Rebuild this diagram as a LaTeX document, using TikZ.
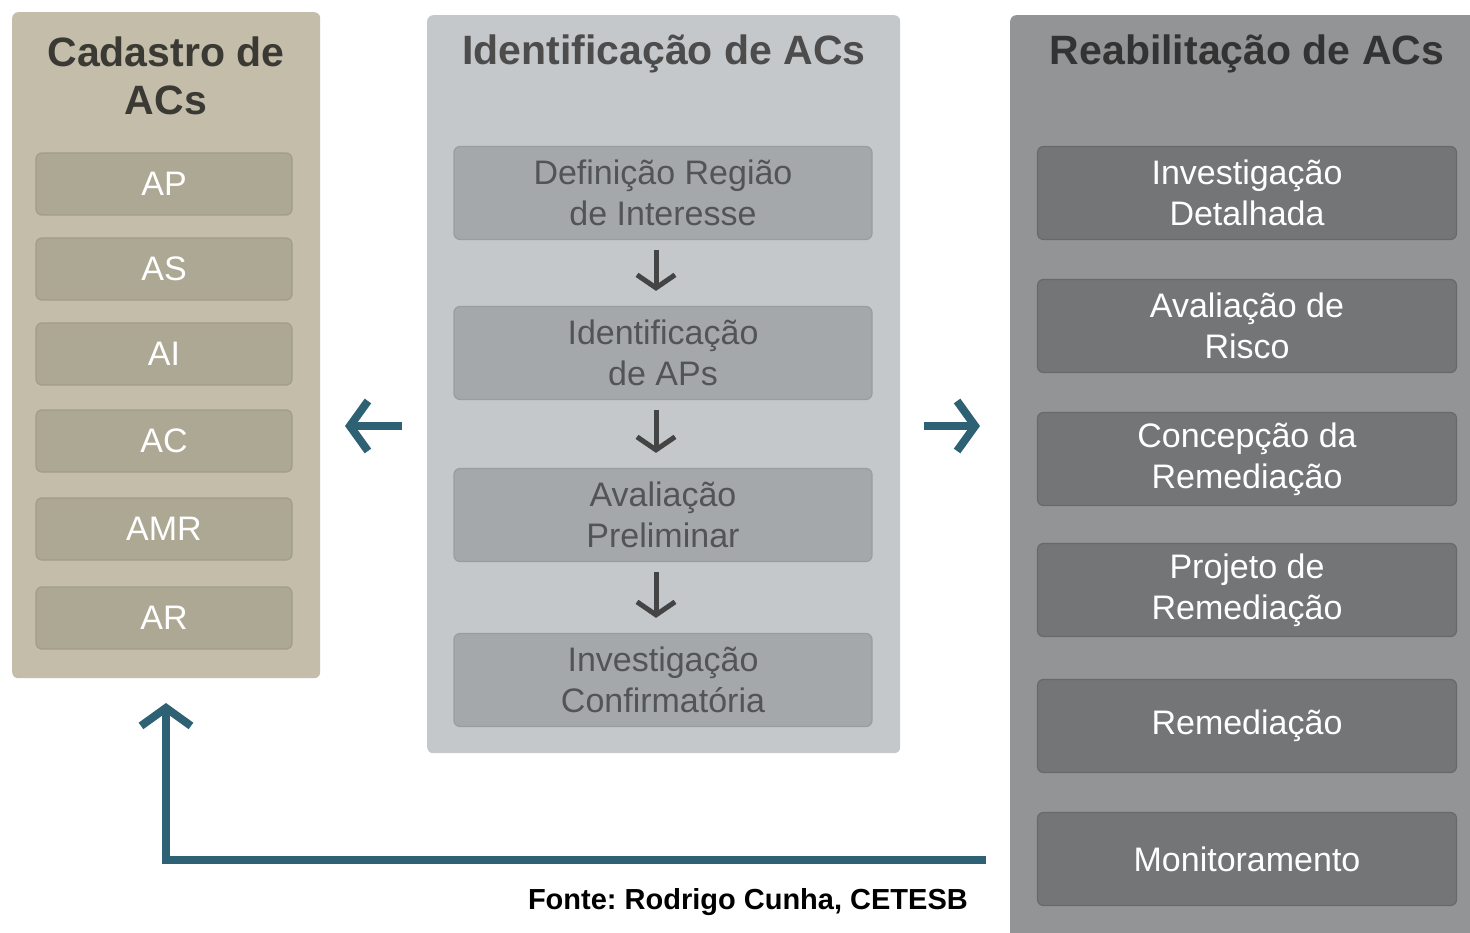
\documentclass[tikz,border=0pt]{standalone}
\usepackage{fontspec}
\setmainfont{Liberation Sans}
\usetikzlibrary{arrows.meta}
\frenchspacing
\definecolor{tanpanel}{HTML}{C3BDA9}
\definecolor{tanbox}{HTML}{ADA894}
\definecolor{tanedge}{HTML}{A29D89}
\definecolor{midpanel}{HTML}{C5C8CA}
\definecolor{midbox}{HTML}{A5A8AA}
\definecolor{midedge}{HTML}{9A9D9F}
\definecolor{midtext}{HTML}{535456}
\definecolor{rgtpanel}{HTML}{939495}
\definecolor{rgtbox}{HTML}{747577}
\definecolor{rgtedge}{HTML}{69696B}
\definecolor{tealc}{HTML}{2E6173}
\definecolor{darkarrow}{HTML}{444444}
\tikzset{
  panel/.style={rounded corners=6pt, inner sep=0pt, anchor=north west},
  ptitle/.style={font=\bfseries\fontsize{41}{48}\selectfont, align=center, inner sep=0pt},
  boxbase/.style={rounded corners=6pt, inner sep=0pt, line width=1.2pt, align=center,
     font=\fontsize{34}{41}\selectfont},
  lbox/.style={boxbase, fill=tanbox, draw=tanedge, text=white, minimum width=256pt, minimum height=62pt},
  mbox/.style={boxbase, fill=midbox, draw=midedge, text=midtext, minimum width=418pt, minimum height=93pt},
  rbox/.style={boxbase, fill=rgtbox, draw=rgtedge, text=white, minimum width=419pt, minimum height=93pt},
  tealarrow/.style={draw=tealc, line width=8pt, -{Straight Barb[length=18pt,width=50pt]}},
  darrow/.style={draw=darkarrow, line width=5pt, -{Straight Barb[length=13pt,width=38pt]}},
}
\begin{document}
\begin{tikzpicture}[x=1pt, y=-1pt]
\path[use as bounding box, clip] (0,0) rectangle (1470,933);
\fill[white] (0,0) rectangle (1470,933);
% panels
\node[panel, fill=tanpanel, minimum width=308pt, minimum height=666pt] (pl) at (12,12) {};
\node[panel, fill=midpanel, minimum width=473pt, minimum height=738pt] (pm) at (427,15) {};
\node[panel, fill=rgtpanel, minimum width=480pt, minimum height=940pt] (pr) at (1010,15) {};
% titles
\node[ptitle, text=black!70!tanpanel] (tl) at (166,76) {Cadastro de\\ACs};
\node[ptitle, text=black!70] (tm) at (664,54) {Identificação de ACs};
\node[ptitle, text=black!80] (tr) at (1247,54) {Reabilitação de ACs};
% left boxes
\node[lbox] (ap) at (164,184) {AP};
\node[lbox] (as) at (164,269) {AS};
\node[lbox] (ai) at (164,354) {AI};
\node[lbox] (ac) at (164,441) {AC};
\node[lbox] (amr) at (164,529) {AMR};
\node[lbox] (ar) at (164,618) {AR};
% middle boxes
\node[mbox] (m1) at (663,193) {Definição Região\\de Interesse};
\node[mbox] (m2) at (663,353) {Identificação\\de APs};
\node[mbox] (m3) at (663,515) {Avaliação\\Preliminar};
\node[mbox] (m4) at (663,680) {Investigação\\Confirmatória};
% right boxes
\node[rbox] (r1) at (1247,193) {Investigação\\Detalhada};
\node[rbox] (r2) at (1247,326) {Avaliação de\\Risco};
\node[rbox] (r3) at (1247,459) {Concepção da\\Remediação};
\node[rbox] (r4) at (1247,590) {Projeto de\\Remediação};
\node[rbox] (r5) at (1247,726) {Remediação};
\node[rbox] (r6) at (1247,859) {Monitoramento};
% down arrows
\draw[darrow, shorten <=10pt, shorten >=15pt] ([xshift=-7pt]m1.south) -- ([xshift=-7pt]m2.north);
\draw[darrow, shorten <=10pt, shorten >=15pt] ([xshift=-7pt]m2.south) -- ([xshift=-7pt]m3.north);
\draw[darrow, shorten <=10pt, shorten >=15pt] ([xshift=-7pt]m3.south) -- ([xshift=-7pt]m4.north);
% teal arrows
\coordinate (la1) at (402,426);
\coordinate (la2) at (345,426);
\coordinate (ra1) at (924,426);
\coordinate (ra2) at (980,426);
\coordinate (ba1) at (986,860);
\coordinate (ba2) at (166,703);
\draw[tealarrow] (la1) -- (la2);
\draw[tealarrow] (ra1) -- (ra2);
\draw[tealarrow] (ba1) -| (ba2);
% source
\node[font=\bfseries\fontsize{29}{34}\selectfont, inner sep=0pt, anchor=base east] (src) at (968,909) {Fonte: Rodrigo Cunha, CETESB};
\end{tikzpicture}
\end{document}
